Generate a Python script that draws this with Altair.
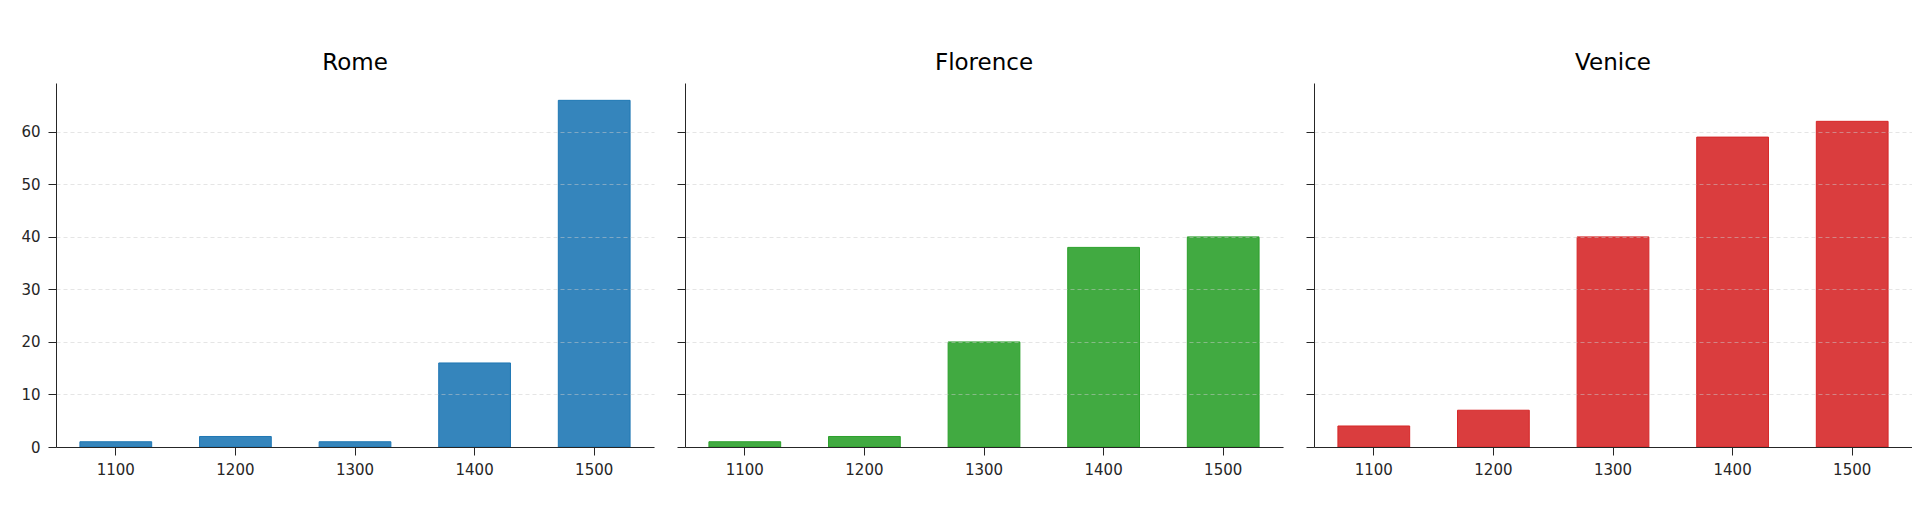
import altair as alt
import pandas as pd

centuries = ["1100", "1200", "1300", "1400", "1500"]
cities = ["Rome", "Florence", "Venice"]
rome = [1, 2, 1, 16, 66]
florence = [1, 2, 20, 38, 40]
venice = [4, 7, 40, 59, 62]
values_by_city = [rome, florence, venice]
fills = ["#3585bc", "#41aa41", "#da3d3e"]
edges = ["#1f77b4", "#2ca02c", "#d62728"]
y_ticks = [0, 10, 20, 30, 40, 50, 60]
y_max = 69.3

FONT = "DejaVu Sans"
INK = "#262626"


def panel(city, values, fill, edge, show_labels):
    df = pd.DataFrame({"century": centuries, "count": values})
    x = alt.X(
        "century:N",
        sort=centuries,
        title=None,
        scale=alt.Scale(paddingInner=0.4, paddingOuter=0.2),
        axis=alt.Axis(
            labelAngle=0,
            labelPadding=7,
            tickSize=8,
            grid=False,
            labelFont=FONT,
            labelFontSize=15,
            labelColor=INK,
            domainColor=INK,
            tickColor=INK,
            zindex=2,
        ),
    )
    y_axis_kwargs = dict(
        values=y_ticks,
        labels=show_labels,
        grid=True,
        gridColor="#cccccc",
        gridOpacity=0.5,
        gridDash=[4, 3],
        gridWidth=1,
        tickSize=8,
        labelPadding=8,
        zindex=1,
        labelFont=FONT,
        labelFontSize=15,
        labelColor=INK,
        domainColor=INK,
        tickColor=INK,
    )
    if show_labels:
        y_axis_kwargs.update(minExtent=48, maxExtent=48)
    else:
        y_axis_kwargs.update(minExtent=8, maxExtent=8)
    y = alt.Y(
        "count:Q",
        title=None,
        scale=alt.Scale(domain=[0, y_max], nice=False, zero=True),
        axis=alt.Axis(**y_axis_kwargs),
    )
    return (
        alt.Chart(df)
        .mark_bar(fill=fill, stroke=edge, strokeWidth=1, opacity=1)
        .encode(x=x, y=y)
        .properties(
            width=598,
            height=364,
            title=alt.TitleParams(
                city,
                fontSize=23,
                font=FONT,
                fontWeight="normal",
                color="#000000",
                anchor="middle",
                baseline="alphabetic",
                offset=-10,
            ),
        )
    )


panels = [
    panel(c, v, f, e, i == 0)
    for i, (c, v, f, e) in enumerate(zip(cities, values_by_city, fills, edges))
]

chart = (
    alt.hconcat(*panels, spacing=22)
    .properties(padding={"top": 44, "left": 0, "right": 0, "bottom": 0})
    .configure(background="white")
    .configure_view(strokeWidth=0)
    .configure_axis(domainWidth=1, tickWidth=1)
)

chart.save("out.html", embed_options={"renderer": "svg", "actions": False})
